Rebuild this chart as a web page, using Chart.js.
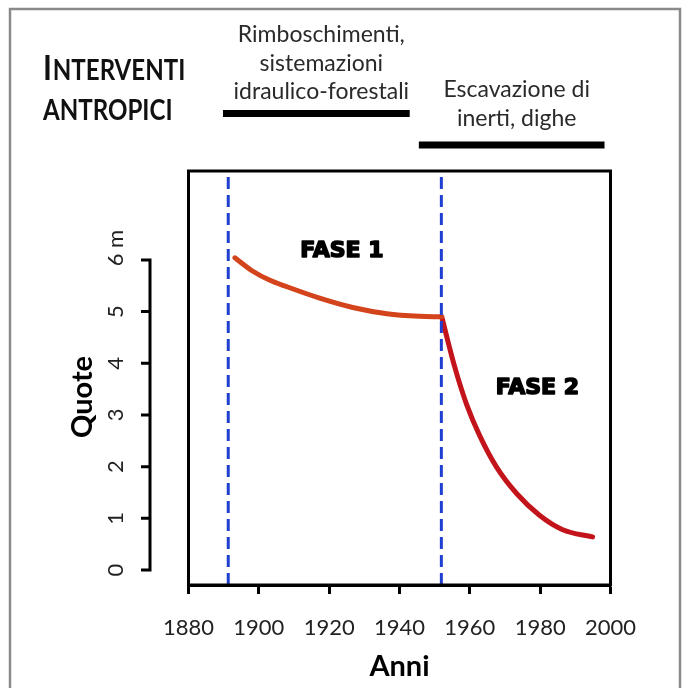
<!DOCTYPE html>
<html>
<head>
<meta charset="utf-8">
<script src="https://cdn.jsdelivr.net/npm/chart.js@4.4.1/dist/chart.umd.min.js"></script>
<style>
  html, body { margin: 0; padding: 0; background: #fff; }
  #wrap { position: relative; width: 687px; height: 688px; }
</style>
</head>
<body>
<div id="wrap"><canvas id="chart" width="687" height="688"></canvas></div>
<script>
// ── Data ─────────────────────────────────────────────
const PHASE1_YEARS  = [1893.2, 1898.3, 1903.0, 1908.0, 1917.3, 1926.7, 1936.4, 1945.7, 1952.0];
const PHASE1_LEVELS = [6.04, 5.78, 5.61, 5.48, 5.26, 5.08, 4.96, 4.91, 4.90];
const PHASE2_YEARS  = [1952.0, 1955.7, 1959.1, 1962.8, 1967.6, 1973.3, 1979.8, 1986.4, 1994.9];
const PHASE2_LEVELS = [4.90, 3.93, 3.20, 2.60, 1.99, 1.48, 1.06, 0.78, 0.64];
const EVENT_YEARS = [1891.3, 1951.9];
const X_TICKS = [1880, 1900, 1920, 1940, 1960, 1980, 2000];
const Y_TICKS = [0, 1, 2, 3, 4, 5, 6];
const Y_UNIT = 'm';
const Y_MIN = -0.29, Y_MAX = 7.72;

const PERIOD_START = [1889.8, 1945.5];
const PERIOD_END   = [1942.9, 1998.3];
const PERIOD_LABELS = [
  ['Rimboschimenti,', 'sistemazioni', 'idraulico-forestali'],
  ['Escavazione di', 'inerti, dighe']
];
const PHASE_LABELS = ['FASE 1', 'FASE 2'];
const PHASE_LABEL_YEARS  = [1923.6, 1979.2];
const PHASE_LABEL_LEVELS = [6.17, 3.52];

const toPoints = (xs, ys) => xs.map((x, i) => ({ x, y: ys[i] }));

// ── Plugins ─────────────────────────────────────────
const framePlugin = {
  id: 'frame',
  afterDraw(chart) {
    const { ctx, chartArea: a } = chart;
    ctx.save();
    // outer grey frame
    ctx.strokeStyle = '#8a8a8a';
    ctx.lineWidth = 2.5;
    ctx.beginPath();
    ctx.moveTo(10, 688);
    ctx.lineTo(10, 9);
    ctx.lineTo(680, 9);
    ctx.lineTo(680, 688);
    ctx.stroke();
    // plot box
    ctx.strokeStyle = '#000';
    ctx.lineWidth = 3;
    ctx.strokeRect(a.left, a.top, a.right - a.left, a.bottom - a.top);
    ctx.restore();
  }
};

const leftAxisPlugin = {
  id: 'leftAxis',
  afterDraw(chart) {
    const { ctx, scales: { y } } = chart;
    const axisX = 150, tickX = 141;
    const yTop = y.getPixelForValue(Y_TICKS[Y_TICKS.length - 1]);
    const yBot = y.getPixelForValue(Y_TICKS[0]);
    ctx.save();
    ctx.strokeStyle = '#000';
    ctx.lineWidth = 3;
    ctx.lineJoin = 'miter';
    ctx.beginPath();
    ctx.moveTo(tickX, yTop);
    ctx.lineTo(axisX, yTop);
    ctx.lineTo(axisX, yBot);
    ctx.lineTo(tickX, yBot);
    Y_TICKS.slice(1, -1).forEach(v => {
      const py = y.getPixelForValue(v);
      ctx.moveTo(tickX, py);
      ctx.lineTo(axisX, py);
    });
    ctx.stroke();

    // rotated tick labels
    ctx.fillStyle = '#222';
    ctx.font = '22px Lato';
    ctx.textBaseline = 'middle';
    Y_TICKS.forEach((v, i) => {
      const py = y.getPixelForValue(v);
      const txt = String(v);
      const w = ctx.measureText(txt).width;
      ctx.save();
      ctx.translate(116, py);
      ctx.rotate(-Math.PI / 2);
      ctx.textAlign = 'left';
      const label = i === Y_TICKS.length - 1 ? txt + ' ' + Y_UNIT : txt;
      ctx.fillText(label, -w / 2, 0);
      ctx.restore();
    });

    // axis title
    ctx.save();
    ctx.translate(83, 397);
    ctx.rotate(-Math.PI / 2);
    ctx.font = 'bold 29px Lato';
    ctx.fillStyle = '#000';
    ctx.textAlign = 'center';
    ctx.fillText('Quote', 0, 0);
    ctx.restore();
    ctx.restore();
  }
};

const annotationPlugin = {
  id: 'annotations',
  afterDraw(chart) {
    const { ctx, scales: { x, y } } = chart;
    ctx.save();

    // title "INTERVENTI ANTROPICI" (small caps, a bit condensed)
    ctx.save();
    ctx.translate(43, 0);
    ctx.scale(0.86, 1);
    ctx.fillStyle = '#111';
    ctx.textBaseline = 'alphabetic';
    ctx.textAlign = 'left';
    ctx.font = 'bold 35px Lato';
    ctx.fillText('I', 0, 80);
    const wI = ctx.measureText('I').width;
    ctx.font = 'bold 28px Lato';
    ctx.fillText('NTERVENTI', wI + 1, 80);
    ctx.fillText('ANTROPICI', 0, 120);
    ctx.restore();

    // period bars + labels
    const barY = [113.5, 145];
    const textBase = [42, 97];
    PERIOD_START.forEach((s, i) => {
      const x0 = x.getPixelForValue(s);
      const x1 = x.getPixelForValue(PERIOD_END[i]);
      ctx.fillStyle = '#000';
      ctx.fillRect(x0, barY[i] - 3.5, x1 - x0, 7);
      ctx.fillStyle = '#2a2a2a';
      ctx.font = '23px Lato';
      ctx.textAlign = 'center';
      PERIOD_LABELS[i].forEach((line, j) => {
        ctx.fillText(line, (x0 + x1) / 2 + 5, textBase[i] + j * 28.5);
      });
    });

    // phase labels (heavy)
    ctx.font = 'bold 22px "DejaVu Sans"';
    ctx.fillStyle = '#000';
    ctx.strokeStyle = '#000';
    ctx.lineWidth = 1.6;
    ctx.lineJoin = 'round';
    ctx.textAlign = 'center';
    ctx.textBaseline = 'middle';
    PHASE_LABELS.forEach((t, i) => {
      const px = x.getPixelForValue(PHASE_LABEL_YEARS[i]);
      const py = y.getPixelForValue(PHASE_LABEL_LEVELS[i]);
      ctx.fillText(t, px, py);
      ctx.strokeText(t, px, py);
    });
    ctx.restore();
  }
};

// ── Chart ───────────────────────────────────────────
window.addEventListener('DOMContentLoaded', () => {
  const ctx = document.getElementById('chart').getContext('2d');
  const eventSets = EVENT_YEARS.map(yr => ({
    data: [{ x: yr, y: Y_MIN }, { x: yr, y: Y_MAX }],
    borderColor: '#1f3fd1',
    borderWidth: 3,
    borderDash: [12, 6],
    pointRadius: 0,
    fill: false,
  }));

  new Chart(ctx, {
    type: 'line',
    plugins: [framePlugin, leftAxisPlugin, annotationPlugin],
    data: {
      datasets: [
        ...eventSets,
        {
          label: 'Fase 1',
          data: toPoints(PHASE1_YEARS, PHASE1_LEVELS),
          borderColor: '#d4441c',
          borderWidth: 5,
          borderCapStyle: 'round',
          cubicInterpolationMode: 'monotone',
          pointRadius: 0,
          fill: false,
        },
        {
          label: 'Fase 2',
          data: toPoints(PHASE2_YEARS, PHASE2_LEVELS),
          borderColor: '#c4141b',
          borderWidth: 5,
          borderCapStyle: 'round',
          cubicInterpolationMode: 'monotone',
          pointRadius: 0,
          fill: false,
        }
      ]
    },
    options: {
      responsive: false,
      animation: false,
      events: [],
      layout: { padding: { left: 188.5, right: 76.5, top: 171, bottom: 0 } },
      plugins: { legend: { display: false }, tooltip: { enabled: false } },
      scales: {
        x: {
          type: 'linear',
          min: X_TICKS[0],
          max: X_TICKS[X_TICKS.length - 1],
          afterBuildTicks: s => { s.ticks = X_TICKS.map(v => ({ value: v })); },
          afterFit: s => { s.height = 103; },
          border: { display: true, color: '#000', width: 3 },
          grid: { drawOnChartArea: false, drawTicks: true, tickLength: 9, tickWidth: 3, tickColor: '#000' },
          ticks: {
            padding: 21,
            color: '#222',
            font: { family: 'Lato', size: 22 },
            maxRotation: 0,
            callback: v => String(v)
          },
          title: {
            display: true,
            text: 'Anni',
            color: '#000',
            font: { family: 'Lato', size: 29, weight: 'bold' },
            padding: { top: 0, bottom: 4 }
          }
        },
        y: {
          type: 'linear',
          min: Y_MIN,
          max: Y_MAX,
          display: false
        }
      }
    }
  });
});
</script>
</body>
</html>
